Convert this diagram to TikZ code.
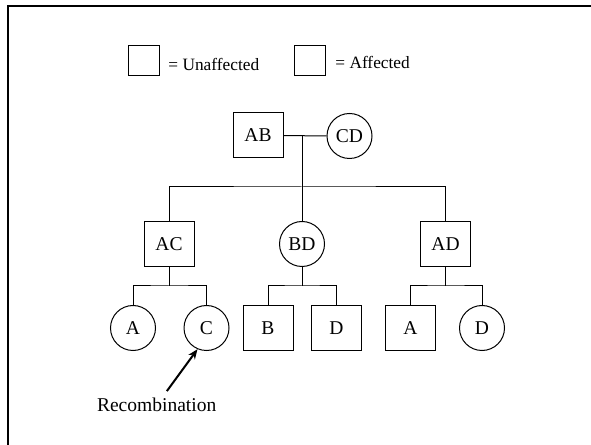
\documentclass[tikz,border=0pt]{standalone}
\usepackage{fontspec}
\setmainfont{Liberation Serif}
\usetikzlibrary{arrows.meta}

\begin{document}
\begin{tikzpicture}[x=0.5bp,y=-0.5bp]
\tikzset{m/.style={draw,line width=0.5bp,minimum width=25bp,minimum height=22.5bp,inner sep=0pt,font=\fontsize{9.8}{11}\selectfont},
f/.style={draw,circle,line width=0.5bp,minimum size=22.5bp,inner sep=0pt,font=\fontsize{9.8}{11}\selectfont},
key/.style={draw,line width=0.5bp,minimum width=15.5bp,minimum height=15bp,inner sep=0pt},
ln/.style={line width=0.5bp},
arr/.style={line width=1bp,-{Stealth[length=5bp,width=4bp]}}}
\useasboundingbox (0,0) rectangle (591,445);
\draw[line width=1.25bp] (8,445) -- (8,6) -- (591,6);

\node[key] (k1) at (143.5,61) {};
\node[anchor=base west,inner sep=0pt,font=\fontsize{8.7}{10}\selectfont] (t1) at (168,71) {= Unaffected};
\node[key] (k2) at (309.5,61) {};
\node[anchor=base west,inner sep=0pt,font=\fontsize{8.7}{10}\selectfont] (t2) at (335,69) {= Affected};

\node[m] (AB) at (258,135.5) {AB};
\node[f] (CD) at (349.5,136) {CD};
\node[m] (AC) at (169,244) {AC};
\node[f] (BD) at (302,244) {BD};
\node[m] (AD) at (445.5,244) {AD};

\node[f] (A1) at (133,328) {A};
\node[f] (C1) at (206.5,328) {C};
\node[m] (B2) at (268,328) {B};
\node[m] (D2) at (336.5,328) {D};
\node[m] (A3) at (410.5,328) {A};
\node[f] (D3) at (482,328) {D};

\coordinate (mu) at (302,136);
\coordinate (s) at (302,187);
\coordinate (s1) at (169,286);
\coordinate (s2) at (302,286);
\coordinate (s3) at (445.5,286);

\draw[ln] (AB) -- (CD);
\draw[ln] (mu) -- (BD);
\draw[ln] (AC.north) |- (s) -| (AD.north);
\draw[ln] (AC) -- (s1);
\draw[ln] (A1.north) |- (s1) -| (C1.north);
\draw[ln] (BD) -- (s2);
\draw[ln] (B2.north) |- (s2) -| (D2.north);
\draw[ln] (AD) -- (s3);
\draw[ln] (A3.north) |- (s3) -| (D3.north);

\node[font=\fontsize{9.8}{11}\selectfont] (rec) at (156.7,405) {Recombination};
\draw[arr] (rec) -- (C1.247);
\end{tikzpicture}
\end{document}
